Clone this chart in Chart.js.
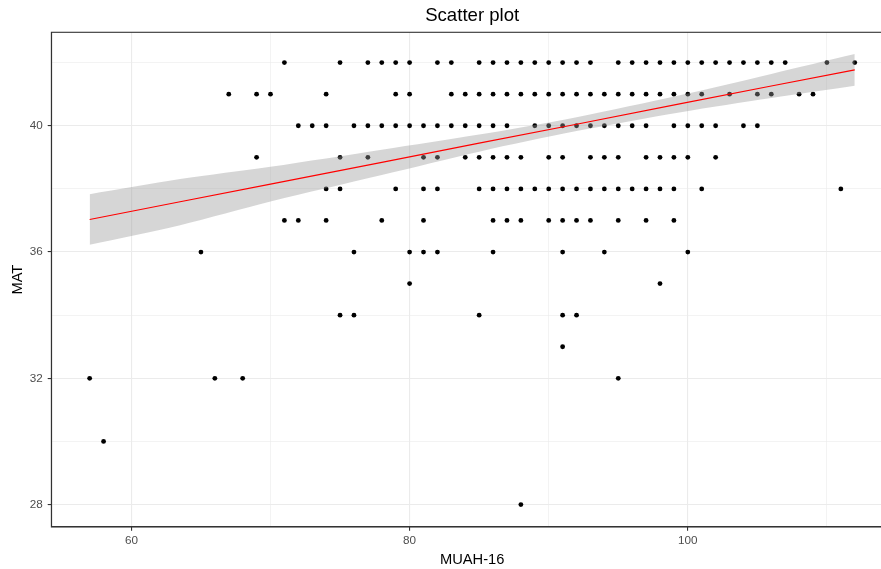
<!DOCTYPE html>
<html>
<head>
<meta charset="utf-8">
<title>Scatter plot</title>
<script src="https://cdn.jsdelivr.net/npm/chart.js@4"></script>
<style>
  html, body { margin: 0; padding: 0; background: #fff; overflow: hidden; }
  canvas { display: block; }
</style>
</head>
<body>
<canvas id="scatterChart" width="900" height="569" style="width:900px;height:569px"></canvas>
<script>
// MAT levels (y) and the MUAH-16 values (x) seen on each level
const matLevels = [42, 41, 40, 39, 38, 37, 36, 35, 34, 33, 32, 30, 28];
const muahAt42 = [71, 75, 77, 78, 79, 80, 82, 83, 85, 86, 87, 88, 89, 90, 91, 92, 93, 95, 96, 97, 98, 99, 100, 101, 102, 103, 104, 105, 106, 107, 110, 112];
const muahAt41 = [67, 69, 70, 74, 79, 80, 83, 84, 85, 86, 87, 88, 89, 90, 91, 92, 93, 94, 95, 96, 97, 98, 99, 100, 101, 103, 105, 106, 108, 109];
const muahAt40 = [72, 73, 74, 76, 77, 78, 79, 80, 81, 82, 83, 84, 85, 86, 87, 89, 90, 91, 92, 93, 94, 95, 96, 97, 99, 100, 101, 102, 104, 105];
const muahAt39 = [69, 75, 77, 81, 82, 84, 85, 86, 87, 88, 90, 91, 93, 94, 95, 97, 98, 99, 100, 102];
const muahAt38 = [74, 75, 79, 81, 82, 85, 86, 87, 88, 89, 90, 91, 92, 93, 94, 95, 96, 97, 98, 99, 101, 111];
const muahAt37 = [71, 72, 74, 78, 81, 86, 87, 88, 90, 91, 92, 93, 95, 97, 99];
const muahAt36 = [65, 76, 80, 81, 82, 86, 91, 94, 100];
const muahAt35 = [80, 98];
const muahAt34 = [75, 76, 85, 91, 92];
const muahAt33 = [91];
const muahAt32 = [57, 66, 68, 95];
const muahAt30 = [58];
const muahAt28 = [88];
const muahByLevel = [muahAt42, muahAt41, muahAt40, muahAt39, muahAt38, muahAt37, muahAt36,
  muahAt35, muahAt34, muahAt33, muahAt32, muahAt30, muahAt28];

// linear fit and its confidence band
const fitX = [57, 63.5, 70, 78, 85, 92, 99.5, 106, 112];
const fitY = [37.03, 37.59, 38.15, 38.84, 39.45, 40.05, 40.70, 41.26, 41.77];
const fitLower = [36.23, 36.85, 37.60, 38.44, 39.18, 39.83, 40.43, 40.88, 41.27];
const fitUpper = [37.83, 38.31, 38.70, 39.24, 39.72, 40.27, 40.97, 41.64, 42.27];

// axes
const xTicks = [60, 70, 80, 90, 100, 110];
const xLabels = [60, 80, 100];
const yTicks = [28, 30, 32, 34, 36, 38, 40, 42];
const yLabels = [28, 32, 36, 40];

const points = [];
matLevels.forEach((level, i) => {
  muahByLevel[i].forEach(x => points.push({ x: x, y: level }));
});
const toXY = ys => fitX.map((x, i) => ({ x: x, y: ys[i] }));

const fontFamily = "'Liberation Sans', Arial, sans-serif";

// title over the panel and the panel border (theme_bw look)
const panelDecor = {
  id: "panelDecor",
  afterDraw(chart) {
    const { ctx, chartArea } = chart;
    ctx.save();
    ctx.strokeStyle = "#333333";
    ctx.lineWidth = 1.1;
    ctx.strokeRect(chartArea.left, chartArea.top, chartArea.right - chartArea.left, chartArea.bottom - chartArea.top);
    ctx.fillStyle = "#000000";
    ctx.font = "18.6px " + fontFamily;
    ctx.textAlign = "center";
    ctx.textBaseline = "middle";
    ctx.fillText("Scatter plot", (chartArea.left + chartArea.right) / 2, 15.5);
    ctx.restore();
  },
};

const gridOpts = (majors) => ({
  color: "#EBEBEB",
  lineWidth: c => (c.tick && majors.includes(c.tick.value) ? 1.1 : 0.6),
  tickColor: c => (c.tick && majors.includes(c.tick.value) ? "#333333" : "rgba(0,0,0,0)"),
  tickLength: 3.7,
  tickWidth: 1.1,
});

const ctx = document.getElementById("scatterChart").getContext("2d");
new Chart(ctx, {
  type: "scatter",
  data: {
    datasets: [
      {
        type: "line",
        data: toXY(fitY),
        borderColor: "#FF0000",
        borderWidth: 1.1,
        pointRadius: 0,
        fill: false,
        order: 0,
      },
      {
        type: "line",
        data: toXY(fitUpper),
        borderColor: "rgba(0,0,0,0)",
        backgroundColor: "rgba(153,153,153,0.4)",
        pointRadius: 0,
        tension: 0.3,
        fill: "+1",
        order: 1,
      },
      {
        type: "line",
        data: toXY(fitLower),
        borderColor: "rgba(0,0,0,0)",
        pointRadius: 0,
        tension: 0.3,
        fill: false,
        order: 2,
      },
      {
        data: points,
        backgroundColor: "#000000",
        borderWidth: 0,
        pointRadius: 2.4,
        order: 3,
      },
    ],
  },
  options: {
    responsive: false,
    animation: false,
    devicePixelRatio: 1,
    events: [],
    layout: { padding: { top: 32.3, right: 7, left: 0, bottom: 0 } },
    plugins: {
      legend: { display: false },
      tooltip: { enabled: false },
    },
    scales: {
      x: {
        type: "linear",
        min: 54.25,
        max: 114.75,
        afterBuildTicks: s => { s.ticks = xTicks.map(v => ({ value: v })); },
        afterFit: s => { s.height = 42; },
        grid: gridOpts(xLabels),
        border: { color: "#333333", width: 1.1 },
        ticks: {
          autoSkip: false,
          maxRotation: 0,
          padding: 3.5,
          color: "#4D4D4D",
          font: { family: fontFamily, size: 11.7 },
          callback: v => (xLabels.includes(v) ? String(v) : ""),
        },
        title: {
          display: true,
          text: "MUAH-16",
          color: "#000000",
          font: { family: fontFamily, size: 14.7 },
          padding: { top: 0, bottom: 0 },
        },
      },
      y: {
        type: "linear",
        min: 27.29,
        max: 42.96,
        afterBuildTicks: s => { s.ticks = yTicks.map(v => ({ value: v })); },
        afterFit: s => { s.width = 51.4; },
        grid: gridOpts(yLabels),
        border: { color: "#333333", width: 1.1 },
        ticks: {
          autoSkip: false,
          padding: 5,
          color: "#4D4D4D",
          font: { family: fontFamily, size: 11.7 },
          callback: v => (yLabels.includes(v) ? String(v) : ""),
        },
        title: {
          display: true,
          text: "MAT",
          color: "#000000",
          font: { family: fontFamily, size: 14.7 },
          padding: { top: 9.2, bottom: 0 },
        },
      },
    },
  },
  plugins: [panelDecor],
});
</script>
</body>
</html>
